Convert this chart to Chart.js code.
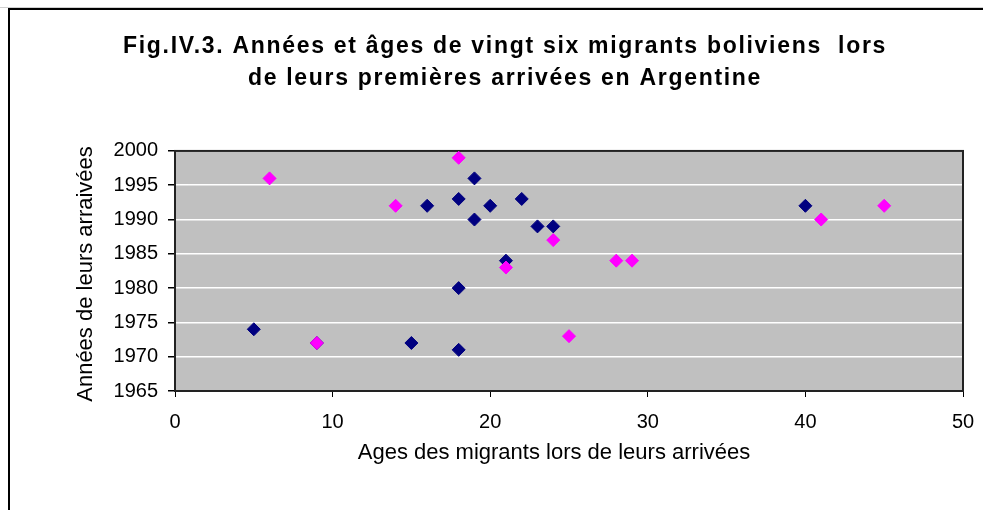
<!DOCTYPE html>
<html>
<head>
<meta charset="utf-8">
<script src="https://cdn.jsdelivr.net/npm/chart.js@4/dist/chart.umd.min.js"></script>
<style>
html,body{margin:0;padding:0;background:#fff;}
#wrap{width:983px;height:510px;position:relative;}
</style>
</head>
<body>
<div id="wrap"><canvas id="c" width="983" height="510"></canvas></div>
<script>
// Series 1 (navy)
const agesNavy  = [5, 9, 15, 16, 18, 18, 18, 19, 19, 20, 21, 22, 23, 24, 40];
const yearsNavy = [1974, 1972, 1972, 1992, 1993, 1980, 1971, 1996, 1990, 1992, 1984, 1993, 1989, 1989, 1992];
// Series 2 (magenta)
const agesPink  = [6, 9, 14, 18, 21, 24, 25, 28, 29, 41, 45];
const yearsPink = [1996, 1972, 1992, 1999, 1983, 1987, 1973, 1984, 1984, 1990, 1992];

const titleLines = ["Fig.IV.3. Années et âges de vingt six migrants boliviens  lors", "de leurs premières arrivées en Argentine"];
const xTitle = "Ages des migrants lors de leurs arrivées";
const yTitle = "Années de leurs arraivées";
const xMin = 0, xMax = 50, xStep = 10;
const yMin = 1965, yMax = 2000, yStep = 5;

const toPts = (xs, ys) => xs.map((x, i) => ({x: x, y: ys[i]}));
const FONT = 'Liberation Sans, Arial, sans-serif';

function wrapDraw(obj, method, dx, dy, spacing) {
  if (!obj || obj['_w_' + method]) return;
  const orig = obj[method].bind(obj);
  obj[method] = function(...args) {
    const c = this.ctx;
    c.save();
    if (spacing) c.letterSpacing = spacing;
    c.translate(dx, dy);
    orig(...args);
    c.restore();
  };
  obj['_w_' + method] = true;
}

const bgPlugin = {
  id: 'bg',
  afterLayout(chart) {
    wrapDraw(chart.titleBlock, 'draw', 18.5, 0, '1.7px');
    wrapDraw(chart.scales.x, 'drawTitle', -15, 0, null);
    wrapDraw(chart.scales.y, 'drawTitle', 0, 3, null);
  },
  beforeDraw(chart) {
    const ctx = chart.ctx, a = chart.chartArea;
    ctx.save();
    ctx.fillStyle = '#fff';
    ctx.fillRect(0, 0, chart.width, chart.height);
    ctx.fillStyle = '#d0d0d0';
    ctx.fillRect(0, 7, chart.width, 1);
    ctx.strokeStyle = '#000';
    ctx.lineWidth = 2;
    ctx.beginPath();
    ctx.moveTo(9, chart.height);
    ctx.lineTo(9, 9);
    ctx.lineTo(chart.width, 9);
    ctx.stroke();
    ctx.fillStyle = '#c0c0c0';
    ctx.fillRect(a.left, a.top, a.right - a.left, a.bottom - a.top);
    ctx.restore();
  },
  beforeDatasetsDraw(chart) {
    const ctx = chart.ctx, a = chart.chartArea;
    ctx.save();
    ctx.strokeStyle = '#222';
    ctx.lineWidth = 2;
    ctx.strokeRect(a.left, a.top, a.right - a.left, a.bottom - a.top);
    ctx.restore();
  }
};

new Chart(document.getElementById('c'), {
  type: 'scatter',
  data: {
    datasets: [
      {label: 'navy', order: 2, data: toPts(agesNavy, yearsNavy), pointStyle: 'rectRot', pointRadius: 6.5, pointHoverRadius: 6.5,
       backgroundColor: '#000080', borderColor: '#000080', borderWidth: 1},
      {label: 'magenta', order: 1, data: toPts(agesPink, yearsPink), pointStyle: 'rectRot', pointRadius: 6.5, pointHoverRadius: 6.5,
       backgroundColor: '#ff00ff', borderColor: '#ff00ff', borderWidth: 1}
    ]
  },
  options: {
    responsive: false,
    animation: false,
    events: [],
    layout: {padding: {left: 10, right: 20, top: 10, bottom: 0}},
    plugins: {
      legend: {display: false},
      tooltip: {enabled: false},
      title: {
        display: true,
        text: titleLines,
        color: '#000',
        font: {family: FONT, size: 23, weight: 'bold', lineHeight: 1.39},
        padding: {top: 20.5, bottom: 56.5}
      }
    },
    scales: {
      x: {
        type: 'linear', min: xMin, max: xMax,
        ticks: {stepSize: xStep, color: '#000', font: {family: FONT, size: 20}, padding: 13, maxRotation: 0},
        grid: {drawOnChartArea: false, color: '#000', tickColor: '#000', tickLength: 6},
        border: {display: true, color: '#222', width: 2},
        title: {display: true, text: xTitle, color: '#000', font: {family: FONT, size: 22, lineHeight: 1.2}, padding: {top: 0, bottom: 43.8}},
        afterFit(s) { s.height = 119; s.paddingRight = 10; }
      },
      y: {
        type: 'linear', min: yMin, max: yMax,
        ticks: {stepSize: yStep, color: '#000', font: {family: FONT, size: 20}, padding: 10, callback: v => String(v)},
        grid: {drawOnChartArea: true, color: '#ffffff', lineWidth: 1.5, tickColor: '#000', tickLength: 7},
        border: {display: true, color: '#222', width: 2},
        title: {display: true, text: yTitle, color: '#000', font: {family: FONT, size: 22, lineHeight: 1.2}, padding: {top: 62.3, bottom: 0}},
        afterFit(s) { s.width = 165; }
      }
    }
  },
  plugins: [bgPlugin]
});
</script>
</body>
</html>
